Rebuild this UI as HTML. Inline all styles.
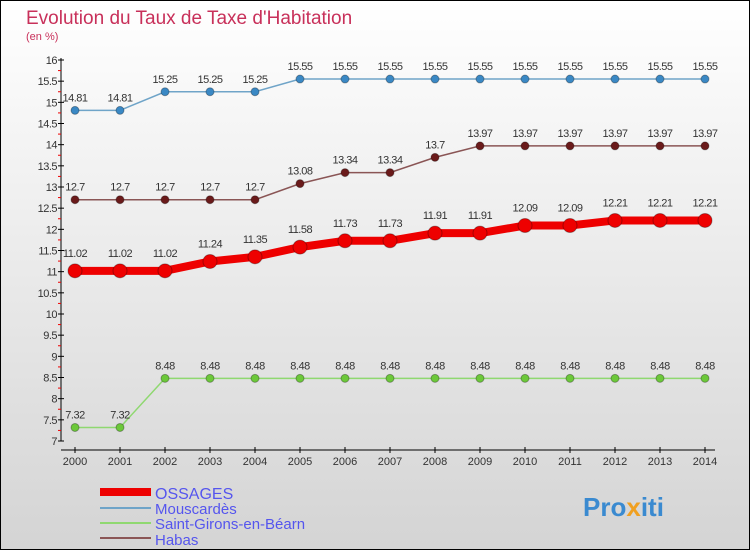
<!DOCTYPE html>
<html><head><meta charset="utf-8"><style>
body{margin:0;width:750px;height:550px;overflow:hidden}
svg{display:block;font-family:"Liberation Sans",sans-serif}
</style></head><body>
<svg width="750" height="550" id="c">
<defs><linearGradient id="bg" x1="0" y1="0" x2="0" y2="1"><stop offset="0" stop-color="#ffffff"/><stop offset="1" stop-color="#d4d4d4"/></linearGradient></defs>
<rect x="0.5" y="0.5" width="749" height="549" fill="url(#bg)" stroke="#000"/>
<text x="26" y="24" font-size="19" fill="#c8305a">Evolution du Taux de Taxe d'Habitation</text>
<text x="26" y="40" font-size="11" fill="#c8305a">(en %)</text>
<g id="axes"></g><g id="series"></g>
<g>
<rect x="100" y="488" width="51" height="8" fill="#e00"/>
<text x="155" y="499" font-size="16" fill="#5555ee">OSSAGES</text>
<rect x="100" y="507" width="51" height="2" fill="#6fa4c8"/>
<text x="155" y="514" font-size="15" fill="#5555ee">Mouscardès</text>
<rect x="100" y="522" width="51" height="2" fill="#8fd870"/>
<text x="155" y="529" font-size="15" fill="#5555ee">Saint-Girons-en-Béarn</text>
<rect x="100" y="537" width="51" height="2" fill="#8a5555"/>
<text x="155" y="545" font-size="15" fill="#5555ee">Habas</text>
</g>
<text x="583" y="516" font-size="26" font-weight="bold" fill="#3a8ad0">Pro<tspan fill="#f0a020">x</tspan>iti</text>
</svg>
<script>
const years=[2000,2001,2002,2003,2004,2005,2006,2007,2008,2009,2010,2011,2012,2013,2014];
const ossages=[11.02,11.02,11.02,11.24,11.35,11.58,11.73,11.73,11.91,11.91,12.09,12.09,12.21,12.21,12.21];
const mouscardes=[14.81,14.81,15.25,15.25,15.25,15.55,15.55,15.55,15.55,15.55,15.55,15.55,15.55,15.55,15.55];
const saintGirons=[7.32,7.32,8.48,8.48,8.48,8.48,8.48,8.48,8.48,8.48,8.48,8.48,8.48,8.48,8.48];
const habas=[12.7,12.7,12.7,12.7,12.7,13.08,13.34,13.34,13.7,13.97,13.97,13.97,13.97,13.97,13.97];
const yTicks=[7,7.5,8,8.5,9,9.5,10,10.5,11,11.5,12,12.5,13,13.5,14,14.5,15,15.5,16];
const NS="http://www.w3.org/2000/svg";
const xs=i=>75+i*45;
const ys=v=>441-(v-7)*(381/9);
function mk(t,a,p){const e=document.createElementNS(NS,t);for(const k in a)e.setAttribute(k,a[k]);p.appendChild(e);return e;}
const ax=document.getElementById('axes');
let e=mk('line',{x1:61,y1:58,x2:61,y2:441,stroke:'#000'},ax);


e=mk('line',{x1:61,y1:450,x2:715,y2:450,stroke:'#000'},ax);


yTicks.forEach(v=>{const y=ys(v);
mk('line',{x1:58,y1:y,x2:64,y2:y,stroke:'#000'},ax);
if(v<16)mk('line',{x1:58,y1:ys(v+0.25),x2:61,y2:ys(v+0.25),stroke:'#e00'},ax);
const t=mk('text',{x:57,y:y+4,'font-size':11,'text-anchor':'end',fill:'#333','letter-spacing':'-0.5'},ax);t.textContent=v;

});
years.forEach((yr,i)=>{const x=xs(i);
mk('line',{x1:x,y1:447,x2:x,y2:453,stroke:'#000'},ax);
const t=mk('text',{x:x,y:465,'font-size':11,'text-anchor':'middle',fill:'#333'},ax);t.textContent=yr;

});
const sg=document.getElementById('series');
function series(name,vals,col,dot,w,r,lbl){
const g=mk('g',{},sg);


mk('polyline',{points:vals.map((v,i)=>xs(i)+','+ys(v)).join(' '),fill:'none',stroke:col,'stroke-width':w},g);
vals.forEach((v,i)=>{const c=mk('circle',{cx:xs(i),cy:ys(v),r:r,fill:dot,stroke:'rgba(0,0,0,0.3)'},g);


const t=mk('text',{x:xs(i),y:ys(v)-lbl,'font-size':11,'text-anchor':'middle',fill:'#333','letter-spacing':'-0.5'},g);t.textContent=v;

});}
series('mouscardes',mouscardes,'#6fa4c8','#3a88c4',1.5,4,9);
series('saint-girons',saintGirons,'#8fd870','#6cc83a',1.5,4,9);
series('habas',habas,'#8a5555','#6a1a1a',1.5,4,9);
series('ossages',ossages,'#e00','#e00',8,7,14);
</script>
</body></html>
